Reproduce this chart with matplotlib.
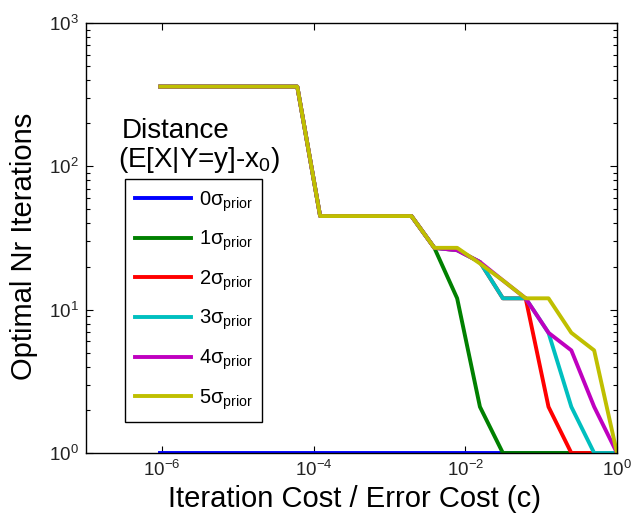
import matplotlib
matplotlib.use("Agg")
from matplotlib import pyplot as plt
from matplotlib.ticker import FixedLocator, NullLocator, LogLocator

plt.rcParams['font.family'] = ['Liberation Sans', 'DejaVu Sans']
plt.rcParams['mathtext.fontset'] = 'custom'
plt.rcParams['mathtext.rm'] = 'Liberation Sans'
plt.rcParams['mathtext.it'] = 'Liberation Sans:italic'
plt.rcParams['mathtext.bf'] = 'Liberation Sans:bold'
plt.rcParams['axes.unicode_minus'] = False

# iteration cost / error cost, halving steps from ~1e-6 up to 1
cost = [9.54e-07, 1.91e-06, 3.81e-06, 7.63e-06, 1.53e-05, 3.05e-05, 6.10e-05,
        1.22e-04, 2.44e-04, 4.88e-04, 9.77e-04, 1.95e-03, 3.91e-03, 7.81e-03,
        1.56e-02, 3.13e-02, 6.25e-02, 0.125, 0.25, 0.5, 1.0]

iters_0 = [1, 1, 1, 1, 1, 1, 1, 1, 1, 1, 1, 1, 1, 1, 1, 1, 1, 1, 1, 1, 1]
iters_1 = [360, 360, 360, 360, 360, 360, 360, 45, 45, 45, 45, 45, 27, 12, 2.1, 1, 1, 1, 1, 1, 1]
iters_2 = [360, 360, 360, 360, 360, 360, 360, 45, 45, 45, 45, 45, 27, 26, 21.5, 12, 12, 2.1, 1, 1, 1]
iters_3 = [360, 360, 360, 360, 360, 360, 360, 45, 45, 45, 45, 45, 27, 26, 21.5, 12, 12, 6.9, 2.1, 1, 1]
iters_4 = [360, 360, 360, 360, 360, 360, 360, 45, 45, 45, 45, 45, 27, 26, 21.5, 16, 12, 6.9, 5.2, 2.1, 1]
iters_5 = [360, 360, 360, 360, 360, 360, 360, 45, 45, 45, 45, 45, 27, 27, 21, 16, 12, 12, 6.9, 5.2, 1]

series = [iters_0, iters_1, iters_2, iters_3, iters_4, iters_5]
labels = ['0σ$_{\\mathrm{prior}}$', '1σ$_{\\mathrm{prior}}$', '2σ$_{\\mathrm{prior}}$',
          '3σ$_{\\mathrm{prior}}$', '4σ$_{\\mathrm{prior}}$', '5σ$_{\\mathrm{prior}}$']
colors = ['#0000ff', '#008000', '#ff0000', '#00bfbf', '#bf00bf', '#bfbf00']

fig = plt.figure(figsize=(6.34, 5.23), dpi=100)
ax = fig.add_axes([86/634, 70/523, 531/634, 430/523])

for ys, lab, col in zip(series, labels, colors):
    ax.plot(cost, ys, color=col, linewidth=2.8, label=lab)

ax.set_xscale('log')
ax.set_yscale('log')
ax.set_xlim(1e-7, 1)
ax.set_ylim(1, 1000)

ax.xaxis.set_major_locator(FixedLocator([1e-6, 1e-4, 1e-2, 1]))
ax.xaxis.set_minor_locator(NullLocator())
ax.yaxis.set_major_locator(LogLocator(base=10))
ax.yaxis.set_minor_locator(LogLocator(base=10, subs=range(2, 10)))
ax.tick_params(which='both', direction='in', top=True, right=True, labelsize=13.5,
               labelcolor='#222222', width=0.8)
ax.tick_params(which='major', length=5, pad=5)
ax.tick_params(which='minor', length=3)
for sp in ax.spines.values():
    sp.set_linewidth(1.0)

ax.set_xlabel('Iteration Cost / Error Cost (c)', fontsize=21)
ax.set_ylabel('Optimal Nr Iterations', fontsize=21)
ax.xaxis.set_label_coords(0.506, -0.075)
ax.yaxis.set_label_coords(-0.09, 0.48)

leg = ax.legend(loc='upper left', bbox_to_anchor=(125/634, 1 - 179/523),
                bbox_transform=fig.transFigure, borderaxespad=0, fontsize=14.5,
                handlelength=2.8, handletextpad=0.35, labelspacing=0.75,
                borderpad=0.5, fancybox=False, framealpha=1, edgecolor='black')
leg.get_frame().set_linewidth(1.0)

fig.text(176/634, 1 - 138/523, 'Distance', fontsize=20, ha='center', va='baseline')
fig.text(199/634, 1 - 167/523, '(E[X|Y=y]-x$_0$)', fontsize=20, ha='center', va='baseline')

fig.savefig('out.png', dpi=100)
